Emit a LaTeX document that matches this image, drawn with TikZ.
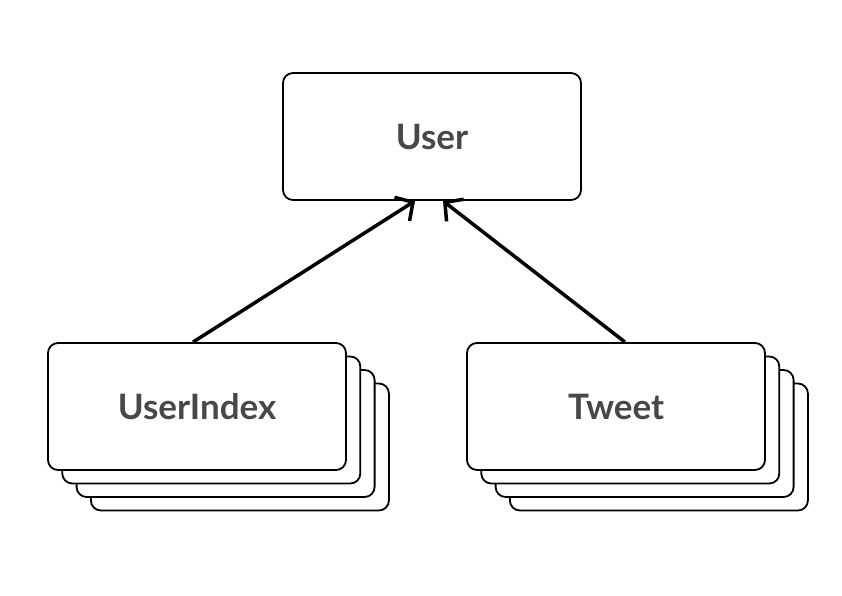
\documentclass[tikz,border=0pt]{standalone}
\usepackage{fontspec}
\setmainfont{Lato}
\usetikzlibrary{positioning,calc,arrows.meta}
\definecolor{labelgrey}{HTML}{484848}
\begin{document}
\begin{tikzpicture}[x=1pt,y=1pt]
                        \tikzstyle{every node}=[inner sep=0]
                        \tikzstyle{card}=[draw,fill=white,rectangle,rounded corners=10,line width=1.8,minimum width=298,minimum height=127,text=labelgrey,font=\fontsize{35}{40}\selectfont\bfseries]
                        \tikzstyle{link}=[line width=3.5,-{Straight Barb[length=13pt,width=28pt]}]
                        \useasboundingbox (0,0) rectangle (842,596);
                        {
                            \node[card] (user) at (432, 459.5) {User};

                            % stacked copies behind the two collections
                            \foreach \k in {3,2,1} {
                                \node[card] (userindex\k) at (197+14.3*\k, 189.5-13.5*\k) {};
                                \node[card] (tweet\k) at (616+14.3*\k, 189.5-13.5*\k) {};
                            }
                            \node[card] (userindex) at (197, 189.5) {UserIndex};
                            \node[card] (tweet) at (616, 189.5) {Tweet};

                            \draw[link] ([xshift=-4]userindex.north) -- ([xshift=-17]user.south);
                            \draw[link] ([xshift=9]tweet.north) -- ([xshift=11]user.south);
                        }
                    \end{tikzpicture}
\end{document}
